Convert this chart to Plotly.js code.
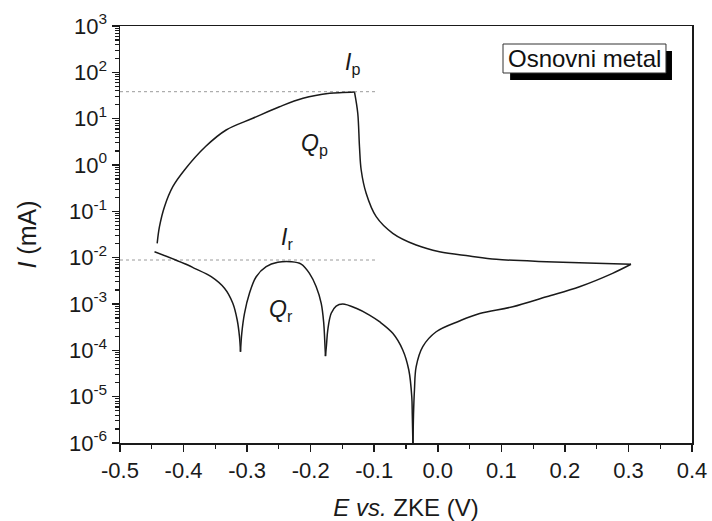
<!DOCTYPE html>
<html>
<head>
<meta charset="utf-8">
<script src="https://cdn.plot.ly/plotly-3.0.1.min.js"></script>
<style>html,body{margin:0;padding:0;background:#fff;}#chart{width:712px;height:521px;}</style>
</head>
<body>
<div id="chart"></div>
<script>
// Anodic (forward) scan: potential E (V) and current I (mA)
const forwardE = [-0.4415, -0.4379, -0.4300, -0.4169, -0.3985, -0.3654, -0.333, -0.291, -0.249, -0.212, -0.170, -0.1499, -0.131,
  -0.1259, -0.1232, -0.1205, -0.1127, -0.0969, -0.0708, -0.0340, 0.0027, 0.0499, 0.092, 0.171, 0.249, 0.304];
const forwardI = [0.0204, 0.0466, 0.126, 0.340, 0.780, 2.5, 5.69, 10.2, 18.1, 27.5, 35.3, 36.7, 37.6,
  13.1, 2.48, 0.780, 0.245, 0.0766, 0.0336, 0.01875, 0.01343, 0.01086, 0.0092, 0.00818, 0.00755, 0.0072];

// Cathodic (reverse) scan
const reverseE = [0.304, 0.275, 0.223, 0.171, 0.118, 0.066, 0.0341, -0.0025, -0.0236, -0.0340, -0.0367, -0.0382, -0.0390,
  -0.0401, -0.0409, -0.0456, -0.0551, -0.0708, -0.0917, -0.1075, -0.1284, -0.1495, -0.1599, -0.1677, -0.1731, -0.1751, -0.1767,
  -0.1779, -0.1794, -0.1834, -0.1913, -0.2019, -0.2149, -0.2307, -0.2517, -0.2700, -0.2857, -0.2963, -0.3041, -0.3084, -0.3104,
  -0.3120, -0.3156, -0.3225, -0.3356, -0.3565, -0.3828, -0.3933, -0.4457];
const reverseI = [0.0072, 0.00459, 0.00236, 0.001436, 0.000873, 0.000625, 0.000430, 0.000252, 0.000120, 4.43e-5, 1.39e-5, 4.0e-6, 8e-7,
  4.0e-6, 9.97e-6, 3.76e-5, 1.02e-4, 2.33e-4, 4.15e-4, 5.78e-4, 8.07e-4, 1.0e-3, 9.04e-4, 6.29e-4, 2.74e-4, 1.30e-4, 7.5e-5,
  1.67e-4, 3.83e-4, 1.035e-3, 2.36e-3, 4.59e-3, 7.29e-3, 8.18e-3, 7.94e-3, 6.38e-3, 3.88e-3, 1.7e-3, 6.29e-4, 2.33e-4, 9.3e-5,
  1.97e-4, 4.51e-4, 1.035e-3, 2.18e-3, 3.88e-3, 5.89e-3, 6.94e-3, 0.01343];

// Peak currents (reference lines)
const peakIp = 38.2;
const peakIr = 0.0089;
const refLineE = [-0.5, -0.095];

// Tick labels
const xTickVals = [-0.5, -0.4, -0.3, -0.2, -0.1, 0.0, 0.1, 0.2, 0.3, 0.4];
const xTickText = ['-0.5', '-0.4', '-0.3', '-0.2', '-0.1', '0.0', '0.1', '0.2', '0.3', '0.4'];
const yExponents = [-6, -5, -4, -3, -2, -1, 0, 1, 2, 3];
const yTickVals = yExponents.map(p => Math.pow(10, p));
const yTickText = yExponents.map(p => '10<sup>' + p + '</sup>');
const yMinorVals = [];
for (let p = -6; p < 3; p++) for (let m = 2; m <= 9; m++) yMinorVals.push(m * Math.pow(10, p));
const xMinorVals = [-0.45, -0.35, -0.25, -0.15, -0.05, 0.05, 0.15, 0.25, 0.35];

// Split a branch at given indices so that cusps and corners stay sharp
function splitAt(xs, ys, cuts) {
  const bounds = [0].concat(cuts, [xs.length - 1]);
  const segs = [];
  for (let k = 0; k < bounds.length - 1; k++) {
    segs.push({x: xs.slice(bounds[k], bounds[k + 1] + 1), y: ys.slice(bounds[k], bounds[k + 1] + 1)});
  }
  return segs;
}
const peakIdx = forwardI.indexOf(Math.max(...forwardI));
const minIdx = [];
for (let i = 1; i < reverseI.length - 1; i++) {
  if (reverseI[i] < reverseI[i - 1] && reverseI[i] < reverseI[i + 1]) minIdx.push(i);
}

const curveLine = {color: '#1a1a1a', width: 1.5, shape: 'spline', smoothing: 1};
const refLine = {color: '#9a9a9a', width: 1, dash: 'dot'};

const traces = [
  {x: refLineE, y: [peakIp, peakIp], mode: 'lines', line: refLine, hoverinfo: 'skip'},
  {x: refLineE, y: [peakIr, peakIr], mode: 'lines', line: refLine, hoverinfo: 'skip'}
];
splitAt(forwardE, forwardI, [peakIdx]).concat(splitAt(reverseE, reverseI, minIdx)).forEach(s => {
  traces.push({x: s.x, y: s.y, mode: 'lines', line: curveLine});
});

const font = 'Liberation Sans, Arial, sans-serif';
const layout = {
  width: 712, height: 521,
  margin: {l: 120, r: 20, t: 26, b: 78},
  paper_bgcolor: '#fff', plot_bgcolor: '#fff',
  showlegend: false,
  font: {family: font, size: 22, color: '#1a1a1a'},
  xaxis: {
    range: [-0.5, 0.4], showgrid: false, zeroline: false,
    showline: true, linecolor: '#1a1a1a', linewidth: 1.5, mirror: true,
    tickmode: 'array', tickvals: xTickVals, ticktext: xTickText,
    ticks: 'outside', ticklen: 7, tickwidth: 1.5, tickcolor: '#1a1a1a',
    minor: {tickmode: 'array', tickvals: xMinorVals, ticks: 'outside', ticklen: 4, tickwidth: 1.2, tickcolor: '#1a1a1a', showgrid: false},
    tickfont: {size: 22, family: font},
    title: {text: '<i>E vs.</i> ZKE (V)', font: {size: 24, family: font}, standoff: 18}
  },
  yaxis: {
    type: 'log', range: [-6, 3], showgrid: false, zeroline: false,
    showline: true, linecolor: '#1a1a1a', linewidth: 1.5, mirror: true,
    tickmode: 'array', tickvals: yTickVals, ticktext: yTickText,
    ticks: 'outside', ticklen: 7, tickwidth: 1.5, tickcolor: '#1a1a1a',
    minor: {tickmode: 'array', tickvals: yMinorVals, ticks: 'outside', ticklen: 4, tickwidth: 1.2, tickcolor: '#1a1a1a', showgrid: false},
    tickfont: {size: 22, family: font},
    title: {text: '<i>I</i> (mA)', font: {size: 25, family: font}, standoff: 25}
  },
  shapes: [
    {type: 'rect', xref: 'paper', yref: 'paper', x0: 0.682, x1: 0.965, y0: 0.8705, y1: 0.940, fillcolor: '#000', line: {width: 0}},
    {type: 'rect', xref: 'paper', yref: 'paper', x0: 0.6696, x1: 0.9545, y0: 0.8873, y1: 0.9568, fillcolor: '#fff', line: {color: '#333', width: 1}}
  ],
  annotations: [
    {xref: 'paper', yref: 'paper', x: 0.812, y: 0.922, text: 'Osnovni metal', showarrow: false, font: {size: 24, family: font, color: '#111'}, xanchor: 'center', yanchor: 'middle'},
    {x: -0.134, y: 2.18, text: '<i>I</i><sub>p</sub>', showarrow: false, font: {size: 23, family: font}},
    {x: -0.194, y: 0.45, text: '<i>Q</i><sub>p</sub>', showarrow: false, font: {size: 23, family: font}},
    {x: -0.2365, y: -1.576, text: '<i>I</i><sub>r</sub>', showarrow: false, font: {size: 23, family: font}},
    {x: -0.2459, y: -3.13, text: '<i>Q</i><sub>r</sub>', showarrow: false, font: {size: 23, family: font}}
  ]
};

Plotly.newPlot('chart', traces, layout, {staticPlot: true, displayModeBar: false});
</script>
</body>
</html>
